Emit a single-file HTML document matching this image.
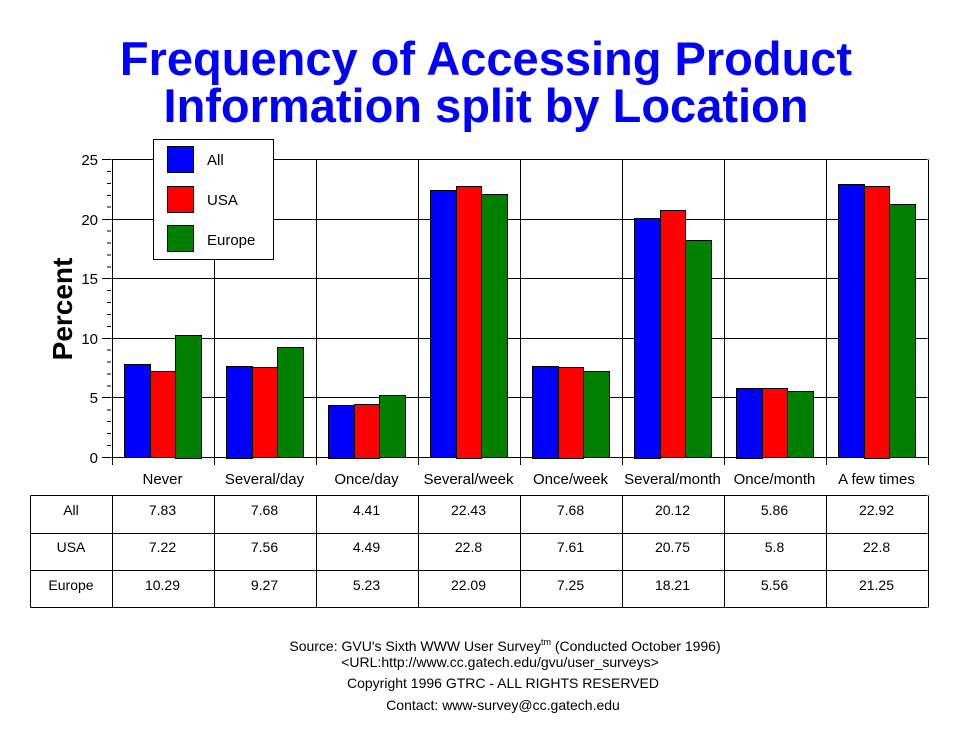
<!DOCTYPE html>
<html><head><meta charset="utf-8"><style>body{margin:0;background:#fff}svg{display:block}</style></head><body>
<svg width="970" height="736" xmlns="http://www.w3.org/2000/svg" font-family="Liberation Sans, Arial, sans-serif">
<rect width="970" height="736" fill="#fff"/>
<g fill="#0000ff" font-weight="bold" font-size="47" text-anchor="middle">
<text x="486" y="75">Frequency of Accessing Product</text>
<text x="486" y="122">Information split by Location</text>
</g>
<g stroke="#000" stroke-width="1" shape-rendering="crispEdges">
<line x1="111.5" y1="159.5" x2="927.5" y2="159.5"/>
<line x1="111.5" y1="219.5" x2="927.5" y2="219.5"/>
<line x1="111.5" y1="278.5" x2="927.5" y2="278.5"/>
<line x1="111.5" y1="338.5" x2="927.5" y2="338.5"/>
<line x1="111.5" y1="397.5" x2="927.5" y2="397.5"/>
<line x1="111.5" y1="457.5" x2="927.5" y2="457.5"/>
<line x1="102" y1="159.5" x2="111" y2="159.5"/><line x1="102" y1="219.5" x2="111" y2="219.5"/><line x1="102" y1="278.5" x2="111" y2="278.5"/><line x1="102" y1="338.5" x2="111" y2="338.5"/><line x1="102" y1="397.5" x2="111" y2="397.5"/><line x1="102" y1="457.5" x2="111" y2="457.5"/>
</g>
<g id="minor" stroke="#000" shape-rendering="crispEdges"></g>
<g id="bars" stroke="#000" shape-rendering="crispEdges"></g>
<g id="vl" stroke="#000" shape-rendering="crispEdges"></g>
<g font-size="15" text-anchor="end">
<text x="98" y="165">25</text><text x="98" y="225">20</text><text x="98" y="284">15</text><text x="98" y="344">10</text><text x="98" y="403">5</text><text x="98" y="463">0</text>
</g>
<text transform="translate(72,309) rotate(-90)" font-size="28" font-weight="bold" text-anchor="middle">Percent</text>
<g id="cats" font-size="15" text-anchor="middle"></g>
<g id="tbl" font-size="14" text-anchor="middle"></g>
<rect x="153.5" y="139.5" width="120" height="120" fill="#fff" stroke="#000" shape-rendering="crispEdges"/>
<g stroke="#000" shape-rendering="crispEdges">
<rect x="167.5" y="146.5" width="26" height="26" fill="#0000ff"/>
<rect x="167.5" y="186.5" width="26" height="26" fill="#ff0000"/>
<rect x="167.5" y="225.5" width="26" height="26" fill="#008000"/>
</g>
<g font-size="15"><text x="207" y="165">All</text><text x="207" y="205">USA</text><text x="207" y="245">Europe</text></g>
<g font-size="14" text-anchor="middle">
<text x="505" y="651">Source: GVU's Sixth WWW User Survey<tspan font-size="9" dy="-6">tm</tspan><tspan dy="6">  (Conducted October 1996)</tspan></text>
<text x="500" y="667">&lt;URL:http://www.cc.gatech.edu/gvu/user_surveys&gt;</text>
<text x="503" y="688">Copyright 1996 GTRC -  ALL RIGHTS RESERVED</text>
<text x="503" y="710">Contact: www-survey@cc.gatech.edu</text>
</g>
<script>
var ns="http://www.w3.org/2000/svg";
function el(p,t,a,txt){var e=document.createElementNS(ns,t);for(var k in a)e.setAttribute(k,a[k]);if(txt!=null)e.textContent=txt;document.getElementById(p).appendChild(e);}
var cats=["Never","Several/day","Once/day","Several/week","Once/week","Several/month","Once/month","A few times"];
var d=[[7.83,7.68,4.41,22.43,7.68,20.12,5.86,22.92],[7.22,7.56,4.49,22.8,7.61,20.75,5.8,22.8],[10.29,9.27,5.23,22.09,7.25,18.21,5.56,21.25]];
var ds=[["7.83","7.68","4.41","22.43","7.68","20.12","5.86","22.92"],["7.22","7.56","4.49","22.8","7.61","20.75","5.8","22.8"],["10.29","9.27","5.23","22.09","7.25","18.21","5.56","21.25"]];
var cols=["#0000ff","#ff0000","#008000"],off=[12,38,63,89];
var x0=111.5,w=102,y0=457.5,s=11.92;
for(var i=1;i<25;i++){if(i%5)el("minor","line",{x1:107,x2:111,y1:y0-i*s,y2:y0-i*s});}
for(var c=0;c<8;c++){var cx=x0+c*w;
 for(var k=0;k<3;k++){var h=d[k][c]*s;el("bars","rect",{x:Math.round(cx+off[k])+0.5,y:Math.round(y0-h)+0.5,width:off[k+1]-off[k],height:Math.round(h),fill:cols[k]});}
 el("cats","text",{x:cx+w/2,y:484},cats[c]);
}
for(var c=0;c<=8;c++){var x=Math.round(x0+c*w)+0.5;el("vl","line",{x1:x,x2:x,y1:159.5,y2:465});el("vl","line",{x1:x,x2:x,y1:495.5,y2:607.5});}
el("vl","line",{x1:30.5,x2:30.5,y1:495.5,y2:607.5});
[495.5,533.5,570.5,607.5].forEach(function(y){el("vl","line",{x1:30.5,x2:927.5,y1:y,y2:y});});
var rn=["All","USA","Europe"],ry=[515,552,590];
for(var k=0;k<3;k++){el("tbl","text",{x:71,y:ry[k]},rn[k]);for(var c=0;c<8;c++)el("tbl","text",{x:x0+c*w+w/2,y:ry[k]},ds[k][c]);}
</script>
</svg>
</body></html>
